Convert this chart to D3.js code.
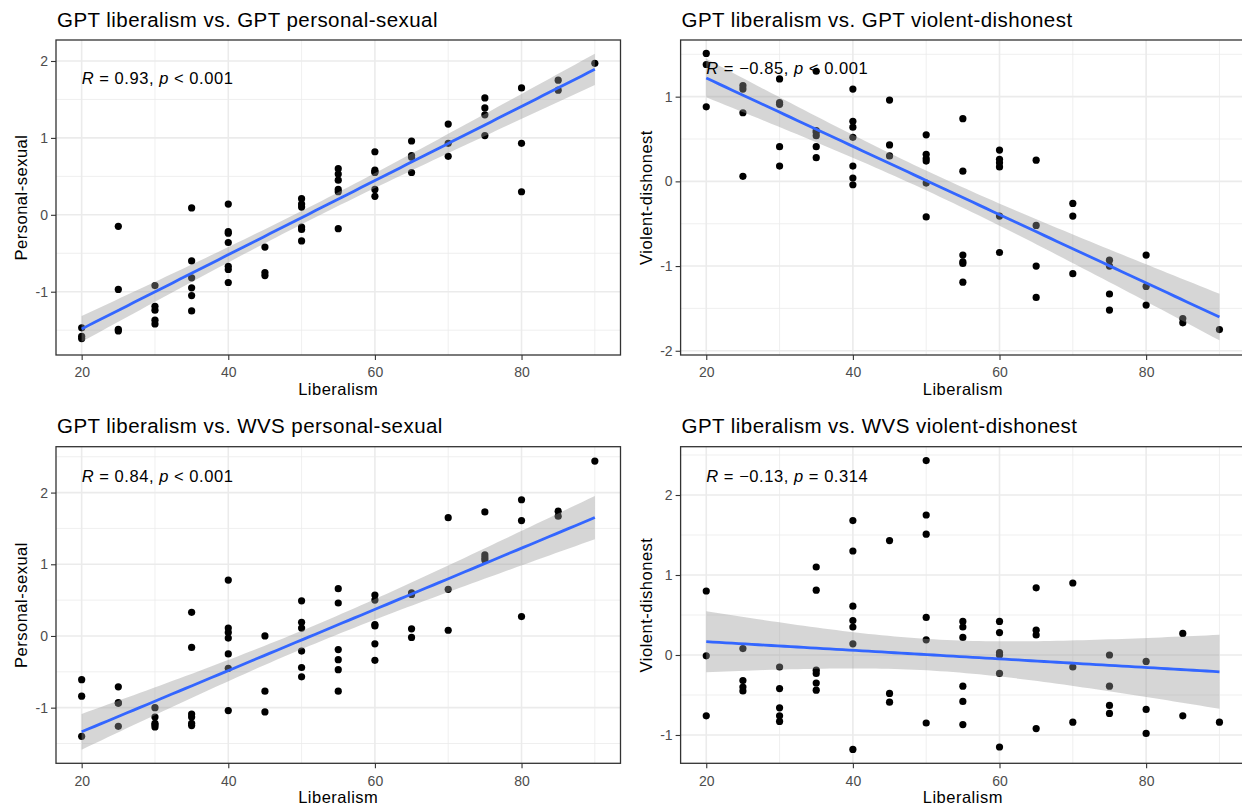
<!DOCTYPE html>
<html><head><meta charset="utf-8">
<script src="https://cdn.jsdelivr.net/npm/d3@7"></script>
<style>body{margin:0;background:#fff}svg{display:block}</style>
</head><body>
<svg id="chart" width="1242" height="808"></svg>
<script>
// ---------- data ----------
const liberalism = [20,20,20, 25,25,25,25, 30,30,30,30,30, 35,35,35,35,35,35, 40,40,40,40,40,40,40,
  45,45,45, 50,50,50,50,50,50, 55,55,55,55,55,55, 60,60,60,60,60,60, 65,65,65,65, 70,70,70,
  75,75,75,75, 80,80,80, 85,85, 90];
const gptPersonalSexual = [-1.47,-1.58,-1.61, -0.15,-0.97,-1.49,-1.51, -0.92,-1.19,-1.24,-1.37,-1.42,
  0.09,-0.60,-0.82,-0.95,-1.05,-1.25, 0.14,-0.22,-0.24,-0.36,-0.67,-0.71,-0.88,
  -0.42,-0.75,-0.79, 0.21,0.14,0.10,-0.16,-0.19,-0.34, 0.60,0.53,0.45,0.33,0.30,-0.18,
  0.82,0.58,0.56,0.55,0.33,0.24, 0.96,0.77,0.75,0.55, 1.18,0.93,0.76,
  1.52,1.39,1.30,1.03, 1.65,0.93,0.30, 1.75,1.62, 1.97];
const gptViolentDishonest = [1.51,1.38,0.88, 1.13,1.09,0.81,0.06, 1.21,0.93,0.91,0.41,0.18,
  1.30,0.60,0.58,0.54,0.41,0.28, 1.09,0.71,0.64,0.52,0.18,0.04,-0.04,
  0.96,0.43,0.30, 0.55,0.32,0.27,0.24,-0.02,-0.42, 0.74,0.12,-0.87,-0.95,-0.97,-1.19,
  0.37,0.26,0.22,0.17,-0.41,-0.84, 0.25,-0.52,-1.00,-1.37, -0.26,-0.41,-1.09,
  -0.93,-1.00,-1.33,-1.52, -0.87,-1.24,-1.46, -1.62,-1.67, -1.75];
const wvsPersonalSexual = [-0.61,-0.84,-1.40, -0.71,-0.93,-0.94,-1.26, -1.00,-1.13,-1.22,-1.24,-1.27,
  0.33,-0.16,-1.09,-1.13,-1.22,-1.25, 0.78,0.11,0.05,-0.03,-0.25,-0.45,-1.04,
  0.00,-0.77,-1.06, 0.49,0.19,0.11,-0.21,-0.44,-0.57, 0.66,0.46,-0.19,-0.33,-0.47,-0.77,
  0.57,0.50,0.16,0.14,-0.11,-0.34, 0.60,0.58,0.10,-0.02, 1.65,0.65,0.08,
  1.73,1.13,1.09,1.06, 1.90,1.61,0.27, 1.74,1.67, 2.44];
const wvsViolentDishonest = [0.80,-0.01,-0.76, 0.08,-0.32,-0.40,-0.45, -0.15,-0.42,-0.66,-0.76,-0.83,
  1.10,0.81,-0.19,-0.23,-0.35,-0.44, 1.68,1.30,0.61,0.43,0.35,0.14,-1.18,
  1.43,-0.48,-0.59, 2.43,1.75,1.51,0.47,0.19,-0.85, 0.42,0.35,0.22,-0.39,-0.58,-0.87,
  0.42,0.28,0.03,0.00,-0.23,-1.15, 0.84,0.31,0.25,-0.92, 0.90,-0.15,-0.84,
  0.00,-0.39,-0.63,-0.73, -0.08,-0.68,-0.98, 0.27,-0.76, -0.84];

const titles = ["GPT liberalism vs. GPT personal-sexual","GPT liberalism vs. GPT violent-dishonest",
  "GPT liberalism vs. WVS personal-sexual","GPT liberalism vs. WVS violent-dishonest"];
const yLabels = ["Personal-sexual","Violent-dishonest","Personal-sexual","Violent-dishonest"];
const xLabel = "Liberalism";
const xTicks = [20,40,60,80];
const yTicks = [[-1,0,1,2],[-2,-1,0,1],[-1,0,1,2],[-1,0,1,2]];
const corrR = ["0.93","\u22120.85","0.84","\u22120.13"];
const corrP = ["< 0.001","< 0.001","< 0.001","= 0.314"];

// ---------- layout ----------
const FONT = "'Liberation Sans', Arial, Helvetica, sans-serif";
const svg = d3.select("#chart");
const layout = [
  {x0:56, x1:620.5, top:40, bottom:355, ydom:[-1.823,2.273]},
  {x0:680.6, x1:1245.1, top:40, bottom:355, ydom:[-2.05,1.669]},
  {x0:56, x1:620.5, top:446.7, bottom:763.3, ydom:[-1.776,2.64]},
  {x0:680.6, x1:1245.1, top:446.7, bottom:763.3, ydom:[-1.354,2.604]}
];
const series = [gptPersonalSexual, gptViolentDishonest, wvsPersonalSexual, wvsViolentDishonest];

function fit(xs, ys){
  const n = xs.length, mx = d3.mean(xs), my = d3.mean(ys);
  let sxx=0, sxy=0;
  for(let i=0;i<n;i++){ sxx += (xs[i]-mx)**2; sxy += (xs[i]-mx)*(ys[i]-my); }
  const b = sxy/sxx, a = my - b*mx;
  let sse=0; for(let i=0;i<n;i++){ sse += (ys[i]-a-b*xs[i])**2; }
  const s = Math.sqrt(sse/(n-2));
  const t = 1.9996; // qt(0.975, n-2)
  const [lo, hi] = d3.extent(xs);
  const grid = d3.range(80).map(i => lo + (hi-lo)*i/79);
  return grid.map(x => {
    const yh = a + b*x, se = s*Math.sqrt(1/n + (x-mx)**2/sxx);
    return {x, y:yh, lo:yh - t*se, hi:yh + t*se};
  });
}

layout.forEach((L, k) => {
  const ys = series[k];
  const x = d3.scaleLinear().domain([16.5, 93.5]).range([L.x0, L.x1]);
  const y = d3.scaleLinear().domain(L.ydom).range([L.bottom, L.top]);
  const g = svg.append("g");

  const cid = "clip"+k;
  svg.append("clipPath").attr("id", cid).append("rect")
    .attr("x", L.x0).attr("y", L.top).attr("width", L.x1-L.x0).attr("height", L.bottom-L.top);

  // grid
  const xMinor = [30,50,70,90];
  const yMinor = d3.range(-2.5, 3, 1).filter(v => v > L.ydom[0] && v < L.ydom[1]);
  const grid = g.append("g").attr("clip-path", `url(#${cid})`);
  grid.selectAll(".vmin").data(xMinor).join("line")
    .attr("x1", d=>x(d)).attr("x2", d=>x(d)).attr("y1", L.top).attr("y2", L.bottom)
    .attr("stroke", "#EBEBEB").attr("stroke-width", 0.8);
  grid.selectAll(".hmin").data(yMinor).join("line")
    .attr("y1", d=>y(d)).attr("y2", d=>y(d)).attr("x1", L.x0).attr("x2", L.x1)
    .attr("stroke", "#EBEBEB").attr("stroke-width", 0.8);
  grid.selectAll(".vmaj").data(xTicks).join("line")
    .attr("x1", d=>x(d)).attr("x2", d=>x(d)).attr("y1", L.top).attr("y2", L.bottom)
    .attr("stroke", "#EBEBEB").attr("stroke-width", 1.6);
  grid.selectAll(".hmaj").data(yTicks[k]).join("line")
    .attr("y1", d=>y(d)).attr("y2", d=>y(d)).attr("x1", L.x0).attr("x2", L.x1)
    .attr("stroke", "#EBEBEB").attr("stroke-width", 1.6);

  const content = g.append("g").attr("clip-path", `url(#${cid})`);
  // points
  content.selectAll("circle").data(liberalism.map((v,i)=>[v, ys[i]])).join("circle")
    .attr("cx", d=>x(d[0])).attr("cy", d=>y(d[1])).attr("r", 3.6).attr("fill", "#000");
  // smooth
  const f = fit(liberalism, ys);
  content.append("path").datum(f)
    .attr("d", d3.area().x(d=>x(d.x)).y0(d=>y(d.lo)).y1(d=>y(d.hi)))
    .attr("fill", "#999999").attr("fill-opacity", 0.4);
  content.append("path").datum(f)
    .attr("d", d3.line().x(d=>x(d.x)).y(d=>y(d.y)))
    .attr("fill", "none").attr("stroke", "#3366FF").attr("stroke-width", 2.8);

  // annotation
  const ann = g.append("text").attr("x", x(d3.min(liberalism))).attr("y", y(d3.max(ys)) + 21)
    .attr("font-family", FONT).attr("font-size", 16.5).attr("fill", "#000").attr("letter-spacing", 0.55);
  ann.append("tspan").attr("font-style", "italic").text("R");
  ann.append("tspan").text(" = " + corrR[k] + ", ");
  ann.append("tspan").attr("font-style", "italic").text("p");
  ann.append("tspan").text(" " + corrP[k]);

  // border
  g.append("rect").attr("x", L.x0).attr("y", L.top).attr("width", L.x1-L.x0).attr("height", L.bottom-L.top)
    .attr("fill", "none").attr("stroke", "#333333").attr("stroke-width", 1.3);

  // axes
  const fmt = d => String(d);
  const xa = g.append("g").attr("transform", `translate(0,${L.bottom})`)
    .call(d3.axisBottom(x).tickValues(xTicks).tickSize(5).tickPadding(4).tickFormat(fmt));
  const ya = g.append("g").attr("transform", `translate(${L.x0},0)`)
    .call(d3.axisLeft(y).tickValues(yTicks[k]).tickSize(5).tickPadding(3).tickFormat(fmt));
  [xa, ya].forEach(a => {
    a.select(".domain").remove();
    a.selectAll(".tick line").attr("stroke", "#333333").attr("stroke-width", 1.1);
    a.selectAll(".tick text").attr("fill", "#4D4D4D").attr("font-family", FONT).attr("font-size", 14);
  });
  xa.selectAll(".tick text").attr("dy", "0.95em");

  // axis titles
  g.append("text").attr("x", (L.x0 + Math.min(L.x1,1245.1))/2).attr("y", L.bottom + 39.5)
    .attr("text-anchor", "middle").attr("font-family", FONT).attr("font-size", 16.5)
    .attr("letter-spacing", 0.5).attr("fill", "#000").text(xLabel);
  g.append("text").attr("transform", `translate(${L.x0 - 29},${(L.top+L.bottom)/2}) rotate(-90)`)
    .attr("text-anchor", "middle").attr("font-family", FONT).attr("font-size", 16.5)
    .attr("letter-spacing", 0.5).attr("fill", "#000").text(yLabels[k]);

  // title
  g.append("text").attr("x", L.x0 + 1).attr("y", L.top - 13.5)
    .attr("font-family", FONT).attr("font-size", 20.5).attr("letter-spacing", 0.45)
    .attr("fill", "#000").text(titles[k]);
});
</script>
</body></html>
